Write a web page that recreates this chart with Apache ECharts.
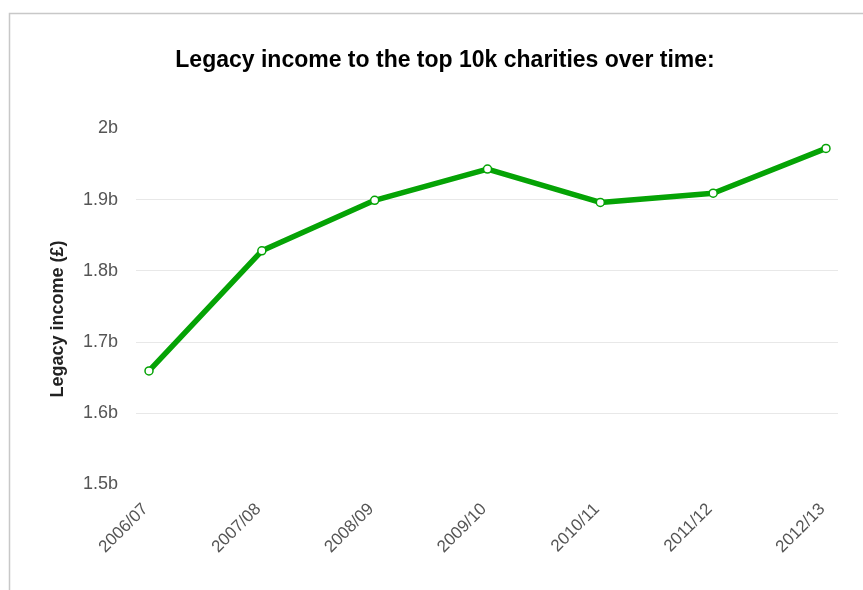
<!DOCTYPE html>
<html>
<head>
<meta charset="utf-8">
<script src="https://cdn.jsdelivr.net/npm/echarts@6/dist/echarts.min.js"></script>
<style>
  html, body { margin: 0; padding: 0; background: #fff; }
  #chart { width: 863px; height: 590px; }
</style>
</head>
<body>
<div id="chart"></div>
<script>
// Financial years on the x axis
const years = ['2006/07', '2007/08', '2008/09', '2009/10', '2010/11', '2011/12', '2012/13'];
// Legacy income, in billions of pounds
const legacyIncome = [1.659, 1.828, 1.899, 1.943, 1.896, 1.909, 1.972];
// Y axis range and step, in billions
const yMin = 1.5;
const yMax = 2.0;
const yStep = 0.1;

const FONT = '"Liberation Sans", Arial, Helvetica, sans-serif';
const fmtB = v => (Math.round(v * 10) / 10) + 'b';

const chart = echarts.init(document.getElementById('chart'));
chart.setOption({
  animation: false,
  backgroundColor: '#ffffff',
  title: {
    text: 'Legacy income to the top 10k charities over time:',
    left: 440,
    textAlign: 'center',
    top: 44,
    textStyle: { fontFamily: FONT, fontSize: 23, fontWeight: 'bold', color: '#000' }
  },
  graphic: [
    {
      type: 'rect',
      shape: { x: 9.5, y: 13.5, width: 1000, height: 1000 },
      style: { fill: 'none', stroke: '#c8c8c8', lineWidth: 1.5 }
    },
    {
      type: 'text',
      x: 58, y: 319,
      rotation: Math.PI / 2,
      style: {
        text: 'Legacy income (£)',
        font: 'bold 18px ' + FONT,
        fill: '#222',
        align: 'center',
        verticalAlign: 'middle'
      }
    }
  ],
  grid: [
    // grid carrying the y scale and the horizontal guide lines
    { left: 136, right: 25, top: 128.5, bottom: 106 },
    // grid carrying the line series
    { left: 149, right: 37, top: 128.5, bottom: 106 }
  ],
  xAxis: [
    {
      gridIndex: 0, type: 'category', data: years, show: false
    },
    {
      gridIndex: 1, type: 'category', data: years, boundaryGap: false,
      axisLine: { show: false }, axisTick: { show: false }, splitLine: { show: false },
      axisLabel: {
        rotate: 45, margin: 19, padding: [0, 5, 0, 0],
        fontFamily: FONT, fontSize: 17, color: '#555'
      }
    }
  ],
  yAxis: [
    {
      gridIndex: 0, type: 'value', min: yMin, max: yMax, interval: yStep,
      axisLine: { show: false }, axisTick: { show: false },
      axisLabel: { formatter: fmtB, margin: 18, fontFamily: FONT, fontSize: 18, color: '#555' },
      splitLine: { show: true, showMinLine: false, showMaxLine: false, lineStyle: { color: '#e8e8e8', width: 1 } }
    },
    {
      gridIndex: 1, type: 'value', min: yMin, max: yMax, interval: yStep, show: false,
      splitLine: { show: false }
    }
  ],
  series: [
    {
      type: 'line',
      xAxisIndex: 1, yAxisIndex: 1,
      data: legacyIncome,
      lineStyle: { color: '#05a305', width: 5.5 },
      itemStyle: { color: '#ffffff', borderColor: '#05a305', borderWidth: 1.5 },
      symbol: 'circle',
      symbolSize: 8,
      showAllSymbol: true
    }
  ]
});
</script>
</body>
</html>
